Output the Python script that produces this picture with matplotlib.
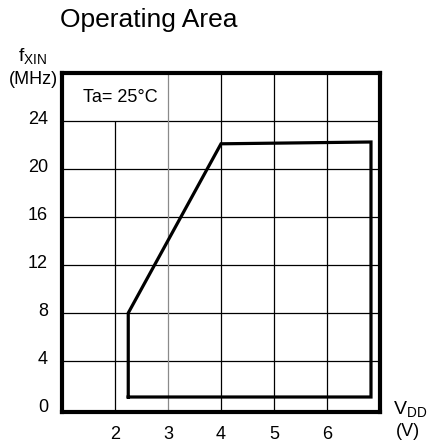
import matplotlib
matplotlib.use("Agg")
import matplotlib.pyplot as plt
from matplotlib.transforms import ScaledTranslation

plt.rcParams['font.family'] = ['Liberation Sans', 'DejaVu Sans']
plt.rcParams['mathtext.fontset'] = 'custom'
plt.rcParams['mathtext.rm'] = 'Liberation Sans'
plt.rcParams['mathtext.it'] = 'Liberation Sans'

# Data
vdd = [2.25, 2.25, 4.0, 6.83, 6.83, 2.25]
fxin = [1.0, 8.0, 22.1, 22.25, 1.0, 1.0]
x_ticks = [2, 3, 4, 5, 6]
x_tick_labels = ['2', '3', '4', '5', '6']
y_ticks = [0, 4, 8, 12, 16, 20, 24]
y_tick_labels = ['0', '4', '8', '12', '16', '20', '24']
h_grid = [4, 8, 12, 16, 20, 24]
v_grid_full = [4, 5, 6]
v_grid_gray = [3]
v_grid_short = [2]

W, H = 428, 446
fig = plt.figure(figsize=(W / 100, H / 100), dpi=100)
ax = fig.add_axes([62 / W, (H - 412) / H, (380 - 62) / W, (412 - 73) / H])
ax.set_xlim(1, 7)
ax.set_ylim(-0.25, 28)

for y in h_grid:
    ax.axhline(y, color='black', lw=0.9, zorder=1)
for x in v_grid_full:
    ax.axvline(x, color='black', lw=0.9, zorder=1)
for x in v_grid_gray:
    ax.axvline(x, color='#8a8a8a', lw=0.9, zorder=1)
for x in v_grid_short:
    ax.vlines(x, -0.25, 24, color='black', lw=0.9, zorder=1)

ax.plot(vdd, fxin, color='black', lw=2.3, solid_joinstyle='miter', zorder=3)

for s in ax.spines.values():
    s.set_linewidth(3.0)
    s.set_color('black')
    s.set_zorder(4)

ax.set_xticks(x_ticks, x_tick_labels)
ax.set_yticks(y_ticks, y_tick_labels)
ax.tick_params(axis='both', length=0, labelsize=13, colors='black')
ax.tick_params(axis='y', pad=10)
ax.tick_params(axis='x', pad=10)
off = ScaledTranslation(0, 4 / 100, fig.dpi_scale_trans)
for lbl in ax.get_yticklabels():
    lbl.set_transform(lbl.get_transform() + off)

fig.text(149 / W, 1 - 20 / H, 'Operating Area', fontsize=19, ha='center', va='center')
fig.text(33 / W, 1 - 56 / H, r'$\mathregular{f_{XIN}}$', fontsize=14, ha='center', va='center')
fig.text(33 / W, 1 - 79 / H, '(MHz)', fontsize=13, ha='center', va='center')
fig.text(120 / W, 1 - 97 / H, 'Ta= 25°C', fontsize=13, ha='center', va='center')
fig.text(410 / W, 1 - 409 / H, r'$\mathregular{V_{DD}}$', fontsize=14, ha='center', va='center')
fig.text(408 / W, 1 - 432 / H, '(V)', fontsize=13, ha='center', va='center')

fig.savefig('out.png', dpi=100)
